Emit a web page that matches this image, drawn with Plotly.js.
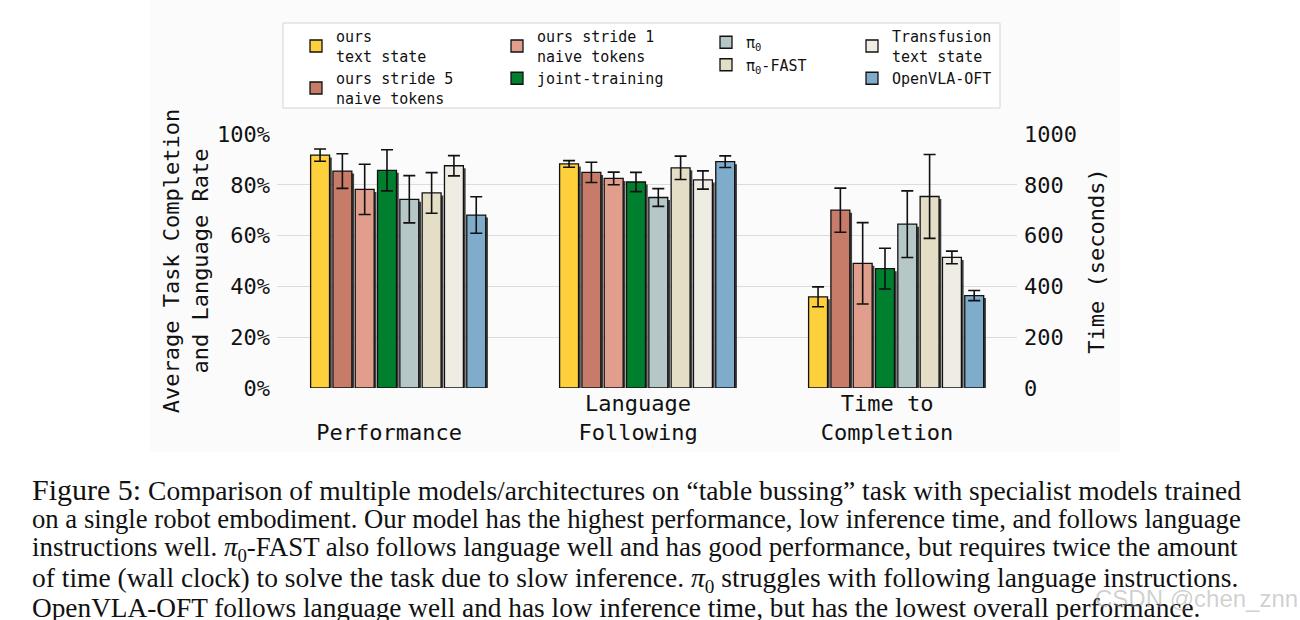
<!DOCTYPE html>
<html>
<head>
<meta charset="utf-8">
<script src="https://cdn.plot.ly/plotly-3.0.1.min.js"></script>
<style>
  html, body { margin: 0; padding: 0; background: #fff; }
  #chart { width: 1300px; height: 620px; }
</style>
</head>
<body>
<div id="chart"></div>
<script>
// models, in bar order within each group
var models = ['ours<br>text state', 'ours stride 5<br>naive tokens', 'ours stride 1<br>naive tokens',
              'joint-training', 'π<sub>0</sub>', 'π<sub>0</sub>-FAST', 'Transfusion<br>text state', 'OpenVLA-OFT'];
var colors = ['#fed03c', '#c77c69', '#e19e8d', '#007f2e', '#b6c7c8', '#e4dec7', '#efece4', '#7facca'];

var groupLabels = [' <br>Performance', 'Language<br>Following', 'Time to<br>Completion'];
var pctTicks = [0, 20, 40, 60, 80, 100];
var pctLabels = ['0%', '20%', '40%', '60%', '80%', '100%'];
var secTicks = [0, 200, 400, 600, 800, 1000];

// percent values
var performance    = [91.7, 85.4, 78.2, 85.7, 74.3, 76.8, 87.5, 68.1];
var performanceErr = [2.4, 6.8, 9.9, 8.1, 9.3, 8.0, 4.0, 7.2];
var language       = [88.2, 84.9, 82.5, 81.1, 75.0, 86.7, 81.9, 89.1];
var languageErr    = [1.3, 4.0, 2.5, 3.8, 3.5, 4.6, 3.6, 2.3];
// seconds
var timeToComplete = [359, 700, 491, 470, 645, 754, 514, 364];
var timeErr        = [39, 87, 160, 80, 131, 165, 25, 20];

// which legend column each model goes in
var legendCol = ['legend', 'legend', 'legend2', 'legend2', 'legend3', 'legend3', 'legend4', 'legend4'];

var L = 277, R = 1017, T = 134, B = 388;
function px(x) { return (x - L) / (R - L); }
function py(y) { return (B - y) / (B - T); }

var slot = 0.0896, barW = 0.076, start = -0.351;
var shadowDx = 0.009;

var traces = [];
// drop shadows first
for (var i = 0; i < models.length; i++) {
  var off = start + i * slot;
  traces.push({
    type: 'bar', x: [0, 1], y: [performance[i], language[i]], base: -1.0,
    offset: off + shadowDx, width: barW, yaxis: 'y',
    marker: { color: 'rgba(0,0,0,0.75)', line: { width: 0 } },
    showlegend: false, hoverinfo: 'skip'
  });
  traces.push({
    type: 'bar', x: [2], y: [timeToComplete[i]], base: -10,
    offset: off + shadowDx, width: barW, yaxis: 'y2',
    marker: { color: 'rgba(0,0,0,0.75)', line: { width: 0 } },
    showlegend: false, hoverinfo: 'skip'
  });
}
for (var i = 0; i < models.length; i++) {
  var off = start + i * slot;
  traces.push({
    type: 'bar', name: models[i], x: [0, 1], y: [performance[i], language[i]],
    offset: off, width: barW, yaxis: 'y',
    marker: { color: colors[i], line: { color: '#111', width: 1.3 } },
    error_y: { type: 'data', array: [performanceErr[i], languageErr[i]], color: '#111', thickness: 1.6, width: 6 },
    legend: legendCol[i], legendgroup: 'g' + i
  });
  traces.push({
    type: 'bar', name: models[i], x: [2], y: [timeToComplete[i]],
    offset: off, width: barW, yaxis: 'y2',
    marker: { color: colors[i], line: { color: '#111', width: 1.3 } },
    error_y: { type: 'data', array: [timeErr[i]], color: '#111', thickness: 1.6, width: 6 },
    showlegend: false, legendgroup: 'g' + i
  });
}

var mono = 'DejaVu Sans Mono, monospace';
var legFont = { family: mono, size: 15, color: '#111' };
function leg(xpx, ypx) {
  return { x: px(xpx), y: py(ypx), xanchor: 'left', yanchor: 'top', bgcolor: 'rgba(0,0,0,0)',
           borderwidth: 0, font: legFont, tracegroupgap: 0, itemclick: false };
}

var caption = [
  '<span style="font-size:30px">Figure 5:</span> Comparison of multiple models/architectures on “table bussing” task with specialist models trained',
  'on a single robot embodiment. Our model has the highest performance, low inference time, and follows language',
  'instructions well. <i>π</i><sub>0</sub>-FAST also follows language well and has good performance, but requires twice the amount',
  'of time (wall clock) to solve the task due to slow inference. <i>π</i><sub>0</sub> struggles with following language instructions.',
  'OpenVLA-OFT follows language well and has low inference time, but has the lowest overall performance.'
];
var captionY = [489, 519, 549, 579, 608];
var captionSize = [27.5, 26.7, 26.9, 27.5, 27.3];

var annotations = caption.map(function (t, k) {
  return { text: t, x: px(30), y: py(captionY[k]), xref: 'paper', yref: 'paper',
           xanchor: 'left', yanchor: 'middle', showarrow: false,
           font: { family: 'Liberation Serif, Times New Roman, serif', size: captionSize[k], color: '#111' } };
});
annotations.push({ text: 'CSDN @chen_znn', x: px(1196), y: py(598), xref: 'paper', yref: 'paper',
  xanchor: 'center', yanchor: 'middle', showarrow: false,
  font: { family: 'Liberation Sans, Arial, sans-serif', size: 24, color: 'rgba(150,150,150,0.45)' } });

var layout = {
  width: 1300, height: 620,
  margin: { l: L, r: 1300 - R, t: T, b: 620 - B },
  paper_bgcolor: '#ffffff', plot_bgcolor: 'rgba(0,0,0,0)',
  barmode: 'overlay',
  font: { family: mono, size: 22, color: '#111' },
  xaxis: {
    range: [-0.486, 2.486], tickvals: [-0.036, 0.964, 1.964], ticktext: groupLabels,
    showgrid: false, zeroline: false, showline: false, ticks: '', fixedrange: true,
    tickfont: { family: mono, size: 22, color: '#111' }
  },
  yaxis: {
    range: [0, 100], tickvals: pctTicks, ticktext: pctLabels, ticklabelstandoff: 6,
    showgrid: true, gridcolor: '#dcdcdc', gridwidth: 1, zeroline: false, showline: false, ticks: '',
    tickfont: { family: mono, size: 22, color: '#111' },
    title: { text: 'Average Task Completion<br>and Language Rate', standoff: 2,
             font: { family: mono, size: 22, color: '#111' } }
  },
  yaxis2: {
    range: [0, 1000], tickvals: secTicks, overlaying: 'y', side: 'right', ticklabelstandoff: 6,
    showgrid: false, zeroline: false, showline: false, ticks: '',
    tickfont: { family: mono, size: 22, color: '#111' },
    title: { text: 'Time (seconds)', standoff: 12, font: { family: mono, size: 22, color: '#111' } }
  },
  legend: leg(296, 20), legend2: leg(497, 20), legend3: leg(706, 26), legend4: leg(852, 20),
  shapes: [
    { type: 'rect', xref: 'paper', yref: 'paper', x0: px(150), x1: px(1120), y0: py(452), y1: py(0),
      fillcolor: '#fbfbfb', line: { width: 0 }, layer: 'below' },
    { type: 'rect', xref: 'paper', yref: 'paper', x0: px(283), x1: px(1000), y0: py(108), y1: py(23),
      fillcolor: 'rgba(255,255,255,0.9)', line: { color: '#d4d4d4', width: 1 }, layer: 'below' }
  ],
  annotations: annotations,
  showlegend: true
};

Plotly.newPlot('chart', traces, layout, { staticPlot: true, displayModeBar: false });
</script>
</body>
</html>
